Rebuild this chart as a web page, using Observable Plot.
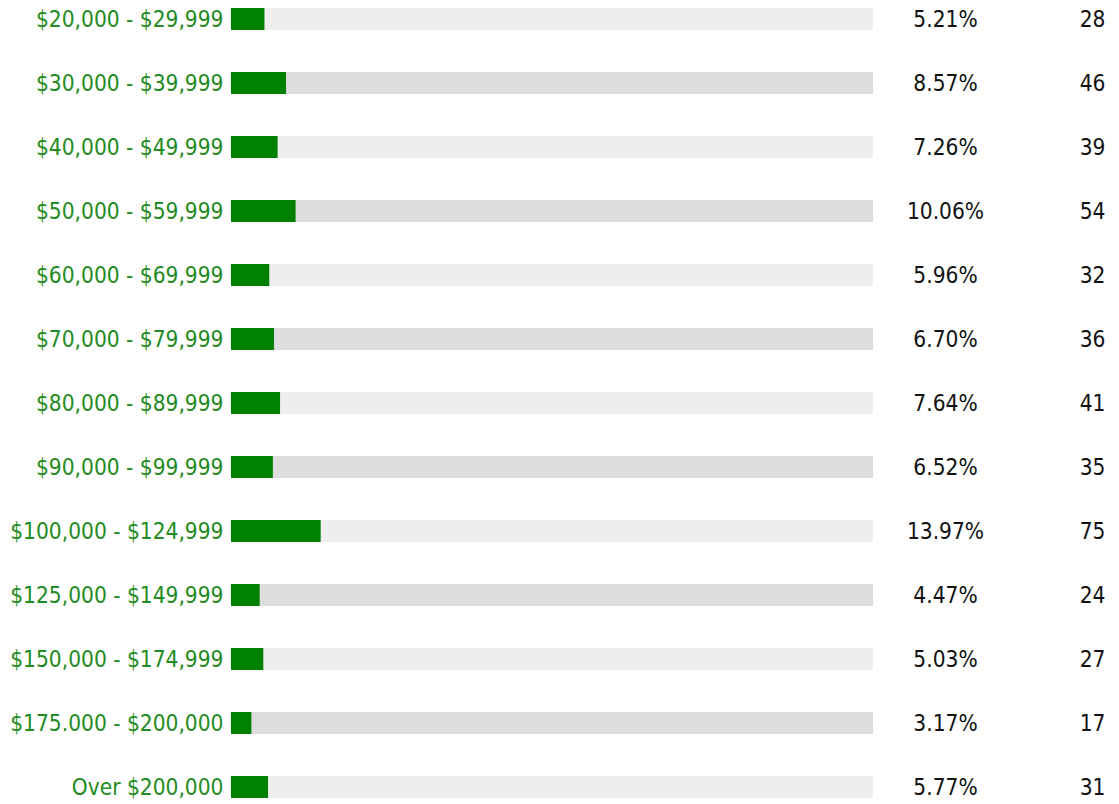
<!DOCTYPE html>
<html>
<head>
<meta charset="utf-8">
<script src="https://cdn.jsdelivr.net/npm/d3@7"></script>
<script src="https://cdn.jsdelivr.net/npm/@observablehq/plot@0.6"></script>
<style>
  html, body { margin: 0; padding: 0; background: #fff; }
  #chart svg { display: block; }
</style>
</head>
<body>
<div id="chart"></div>
<script>
const categories = [
  "$20,000 - $29,999", "$30,000 - $39,999", "$40,000 - $49,999", "$50,000 - $59,999",
  "$60,000 - $69,999", "$70,000 - $79,999", "$80,000 - $89,999", "$90,000 - $99,999",
  "$100,000 - $124,999", "$125,000 - $149,999", "$150,000 - $174,999", "$175.000 - $200,000",
  "Over $200,000"
];
const percents = [5.21, 8.57, 7.26, 10.06, 5.96, 6.70, 7.64, 6.52, 13.97, 4.47, 5.03, 3.17, 5.77];
const counts = [28, 46, 39, 54, 32, 36, 41, 35, 75, 24, 27, 17, 31];

const data = categories.map((c, i) => ({
  cat: c, pct: percents[i], count: counts[i], track: i % 2 === 0 ? "#eeeeee" : "#dddddd"
}));

const font = "'DejaVu Sans Condensed', 'DejaVu Sans', Verdana, sans-serif";

const chart = Plot.plot({
  width: 1119,
  height: 804,
  margin: 0,
  style: { fontFamily: font, background: "#fff", fontStretch: "condensed" },
  x: { domain: [0, 100], range: [231, 873], axis: null },
  y: { domain: categories, range: [-13, 819], paddingInner: 0, paddingOuter: 0, axis: null },
  marks: [
    Plot.barX(data, { x1: 0, x2: 100, y: "cat", fill: "track", insetTop: 21, insetBottom: 21 }),
    Plot.barX(data, { x1: 0, x2: "pct", y: "cat", fill: "#008000", insetTop: 21, insetBottom: 21 }),
    Plot.text(data, { x: 0, y: "cat", text: "cat", textAnchor: "end", dx: -8, fill: "#228b22", fontSize: 22.5 }),
    Plot.text(data, { x: 100, y: "cat", text: d => d.pct.toFixed(2) + "%", textAnchor: "middle", dx: 72, fill: "#111", fontSize: 22.5 }),
    Plot.text(data, { x: 100, y: "cat", text: "count", textAnchor: "end", dx: 232, fill: "#111", fontSize: 22.5 })
  ]
});
document.getElementById("chart").appendChild(chart);
</script>
</body>
</html>
